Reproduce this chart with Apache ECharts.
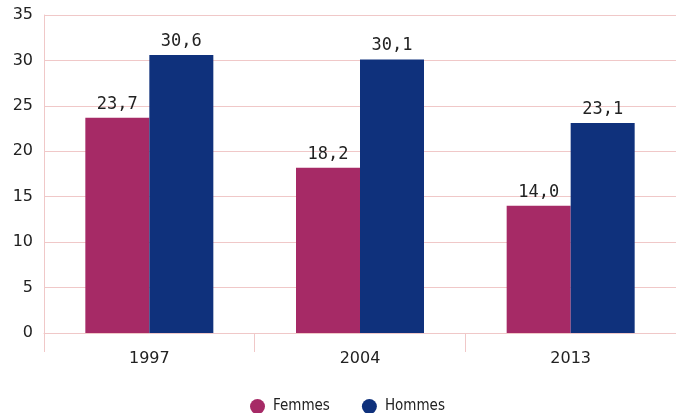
<!DOCTYPE html>
<html><head><meta charset="utf-8">
<script src="https://cdn.jsdelivr.net/npm/echarts@6/dist/echarts.min.js"></script>
<style>html,body{margin:0;padding:0;background:#fff}#c{width:676px;height:413px}</style>
</head><body><div id="c"></div>
<script>
const categories = ['1997', '2004', '2013'];
const femmes = [23.7, 18.2, 14.0];
const hommes = [30.6, 30.1, 23.1];
const yTicks = [0, 5, 10, 15, 20, 25, 30, 35];

const chart = echarts.init(document.getElementById('c'));
const fmt = p => p.value.toFixed(1).replace('.', ',');
const lbl = {show: true, position: 'top', formatter: fmt, fontFamily: 'DejaVu Sans Mono', fontSize: 17, color: '#222', distance: 5};
const lineCol = '#f0c8c8';
chart.setOption({
  animation: false,
  grid: {left: 44, right: 0, top: 15, bottom: 80},
  legend: {top: 394, left: 245, itemGap: 32, icon: 'circle', itemWidth: 15, itemHeight: 15,
    textStyle: {fontFamily: 'DejaVu Sans Condensed', fontSize: 15, color: '#222', padding: [0, 0, 0, 3]},
    data: ['Femmes', 'Hommes']},
  xAxis: {type: 'category', data: categories,
    axisLine: {lineStyle: {color: lineCol}},
    axisTick: {show: true, length: 19, lineStyle: {color: lineCol, width: 1}},
    axisLabel: {fontFamily: 'DejaVu Sans', fontSize: 16, color: '#222', margin: 18}},
  yAxis: {type: 'value', min: yTicks[0], max: yTicks[yTicks.length - 1], interval: 5,
    axisLine: {show: true, lineStyle: {color: lineCol}},
    splitLine: {lineStyle: {color: lineCol}},
    axisLabel: {fontFamily: 'DejaVu Sans', fontSize: 16, color: '#222', margin: 11}},
  series: [
    {name: 'Femmes', type: 'bar', data: femmes, barWidth: 64, barGap: '0%', itemStyle: {color: '#a62a66'}, label: lbl},
    {name: 'Hommes', type: 'bar', data: hommes, barWidth: 64, barGap: '0%', itemStyle: {color: '#0f317c'}, label: lbl}
  ]
});
</script></body></html>
